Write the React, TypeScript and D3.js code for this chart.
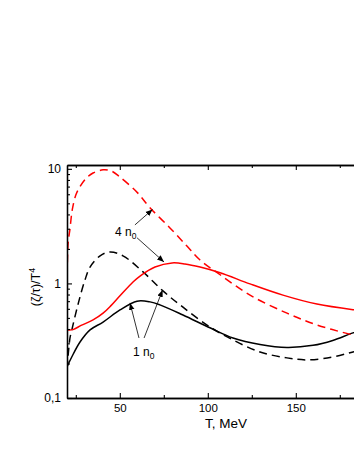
import { useRef, useEffect } from 'react';
import * as d3 from 'd3';

// T, MeV
const redDashT = [20, 20.6, 21.7, 23, 25, 27.4, 31, 34.8, 40.5, 45, 50, 60, 67, 78.5, 88, 95.6, 107, 124, 145, 162, 182.5, 192];
const redDashV = [0.9, 2.2, 3.0, 4.4, 5.9, 7.0, 8.3, 9.2, 9.8, 9.6, 8.5, 6.2, 4.6, 3.05, 2.13, 1.6, 1.19, 0.79, 0.55, 0.434, 0.355, 0.33];

const redSolidT = [20, 23.4, 28, 34.8, 40.5, 45, 50.1, 57.5, 61.5, 70, 79.7, 87, 95.6, 107, 124, 142.7, 162, 182.5, 192];
const redSolidV = [0.393, 0.395, 0.43, 0.48, 0.55, 0.64, 0.78, 1.03, 1.16, 1.39, 1.51, 1.48, 1.39, 1.24, 0.99, 0.79, 0.66, 0.59, 0.57];

const blackDashT = [20, 21.7, 22.7, 26.3, 30.2, 33.1, 38.8, 44.4, 51.8, 63.2, 74.5, 85.9, 101.2, 114.3, 129.7, 145, 156.4, 171, 182.5, 192];
const blackDashV = [0.18, 0.334, 0.39, 0.66, 1.07, 1.39, 1.74, 1.88, 1.74, 1.26, 0.86, 0.62, 0.417, 0.321, 0.252, 0.224, 0.215, 0.228, 0.252, 0.27];

const blackSolidT = [20, 22.7, 27.4, 33.1, 40.5, 50.1, 59.8, 67.2, 72.8, 85.9, 101.2, 114.3, 129.7, 145, 159.8, 171, 182.5, 192];
const blackSolidV = [0.187, 0.228, 0.308, 0.393, 0.46, 0.587, 0.7, 0.69, 0.65, 0.53, 0.41, 0.334, 0.293, 0.276, 0.288, 0.318, 0.37, 0.41];

const xMajor = [50, 100, 150, 200];
const xMajorLabels = ['50', '100', '150', ''];
const xMinor = [25, 75, 125, 175];
const yMajor = [0.1, 1, 10];
const yMajorLabels = ['0,1', '1', '10'];
const yMinor = [0.2, 0.3, 0.4, 0.5, 0.6, 0.7, 0.8, 0.9, 2, 3, 4, 5, 6, 7, 8, 9];

// annotations in data coords: [fromT, fromV, toT, toV]
const arrows = [
  [58.6, 3.24, 68.6, 4.42],
  [59.8, 2.5, 75.1, 1.54],
  [60.9, 0.334, 55.8, 0.676],
  [63.8, 0.334, 74.3, 0.877],
];
const labels = [
  { t: 47.3, v: 2.6, text: '4 n', sub: '0' },
  { t: 57.5, v: 0.233, text: '1 n', sub: '0' },
];

const margin = { left: 67, top: 165, bottom: 398 };
const font = '"Liberation Sans", Arial, sans-serif';

const Chart = ({ width, height }) => {
  const ref = useRef();

  useEffect(() => {
    const svg = d3.select(ref.current);
    svg.selectAll('*').remove();

    const x = d3.scaleLinear().domain([20, 200]).range([margin.left, margin.left + 180 * 1.76]);
    const y = d3.scaleLog().domain([0.1, 10.8]).range([margin.bottom, margin.top]);

    const defs = svg.append('defs');
    defs
      .append('marker')
      .attr('id', 'arr')
      .attr('viewBox', '0 0 10 10')
      .attr('refX', 10)
      .attr('refY', 5)
      .attr('markerWidth', 7)
      .attr('markerHeight', 7)
      .attr('markerUnits', 'userSpaceOnUse')
      .attr('orient', 'auto')
      .append('path')
      .attr('d', 'M0,1L10,5L0,9z')
      .attr('fill', 'black');

    defs
      .append('clipPath')
      .attr('id', 'plot')
      .append('rect')
      .attr('x', margin.left)
      .attr('y', margin.top)
      .attr('width', x.range()[1] - margin.left)
      .attr('height', margin.bottom - margin.top);

    const line = (ts, vs) =>
      d3
        .line()
        .x((d) => x(d[0]))
        .y((d) => y(d[1]))
        .curve(d3.curveCatmullRom.alpha(0.5))(ts.map((t, i) => [t, vs[i]]));

    const series = [
      { t: blackSolidT, v: blackSolidV, color: 'black', dash: null },
      { t: blackDashT, v: blackDashV, color: 'black', dash: '8,5' },
      { t: redSolidT, v: redSolidV, color: '#ff0000', dash: null },
      { t: redDashT, v: redDashV, color: '#ff0000', dash: '8,5' },
    ];

    const curves = svg.append('g').attr('clip-path', 'url(#plot)');
    series.forEach((s) => {
      curves
        .append('path')
        .attr('d', line(s.t, s.v))
        .attr('fill', 'none')
        .attr('stroke', s.color)
        .attr('stroke-width', 1.5)
        .attr('stroke-dasharray', s.dash);
    });

    // axes
    const styleAxis = (g) => {
      g.attr('font-family', font).attr('font-size', 12);
      g.selectAll('path.domain').attr('stroke-width', 1.3);
      g.selectAll('line').attr('stroke-width', 1.1);
    };

    svg
      .append('g')
      .attr('transform', `translate(0,${margin.bottom})`)
      .call(
        d3
          .axisBottom(x)
          .tickValues(xMajor)
          .tickSize(-5)
          .tickSizeOuter(0)
          .tickPadding(6)
          .tickFormat((d, i) => xMajorLabels[i])
      )
      .call(styleAxis)
      .attr('font-size', 11.5);
    svg
      .append('g')
      .attr('transform', `translate(0,${margin.bottom})`)
      .call(d3.axisBottom(x).tickValues(xMinor).tickSize(-3).tickSizeOuter(0).tickFormat(''))
      .call(styleAxis);
    svg
      .append('g')
      .attr('transform', `translate(0,${margin.top})`)
      .call(d3.axisTop(x).tickValues(xMajor).tickSize(-5).tickSizeOuter(0).tickFormat(''))
      .call(styleAxis);
    svg
      .append('g')
      .attr('transform', `translate(0,${margin.top})`)
      .call(d3.axisTop(x).tickValues(xMinor).tickSize(-3).tickSizeOuter(0).tickFormat(''))
      .call(styleAxis);

    svg
      .append('g')
      .attr('transform', `translate(${margin.left},0)`)
      .call(
        d3
          .axisLeft(y)
          .tickValues(yMajor)
          .tickSize(-5)
          .tickSizeOuter(0)
          .tickPadding(6)
          .tickFormat((d, i) => yMajorLabels[i])
      )
      .call(styleAxis);
    svg
      .append('g')
      .attr('transform', `translate(${margin.left},0)`)
      .call(d3.axisLeft(y).tickValues(yMinor).tickSize(-3).tickSizeOuter(0).tickFormat(''))
      .call(styleAxis);

    // axis titles
    svg
      .append('text')
      .attr('x', 226)
      .attr('y', 428)
      .attr('text-anchor', 'middle')
      .attr('font-family', font)
      .attr('font-size', 13.5)
      .text('T, MeV');

    const yt = svg
      .append('text')
      .attr('transform', 'translate(40,287) rotate(-90)')
      .attr('text-anchor', 'middle')
      .attr('font-family', font)
      .attr('font-size', 12.5);
    yt.append('tspan').text('(ζ/τ)/T');
    yt.append('tspan').attr('font-size', 9).attr('dy', -5).text('4');

    // annotations
    arrows.forEach((a) => {
      svg
        .append('line')
        .attr('x1', x(a[0]))
        .attr('y1', y(a[1]))
        .attr('x2', x(a[2]))
        .attr('y2', y(a[3]))
        .attr('stroke', 'black')
        .attr('stroke-width', 0.8)
        .attr('marker-end', 'url(#arr)');
    });

    labels.forEach((l) => {
      const t = svg
        .append('text')
        .attr('x', x(l.t))
        .attr('y', y(l.v))
        .attr('font-family', font)
        .attr('font-size', 12);
      t.append('tspan').text(l.text);
      t.append('tspan').attr('font-size', 8.5).attr('dy', 3).text(l.sub);
    });
  }, []);

  return (
    <svg
      ref={ref}
      width={width}
      height={height}
      style={{ position: 'absolute', left: 0, top: 0, background: 'white' }}
    ></svg>
  );
};

export default function App() {
  return <Chart width={354} height={458} />;
}
